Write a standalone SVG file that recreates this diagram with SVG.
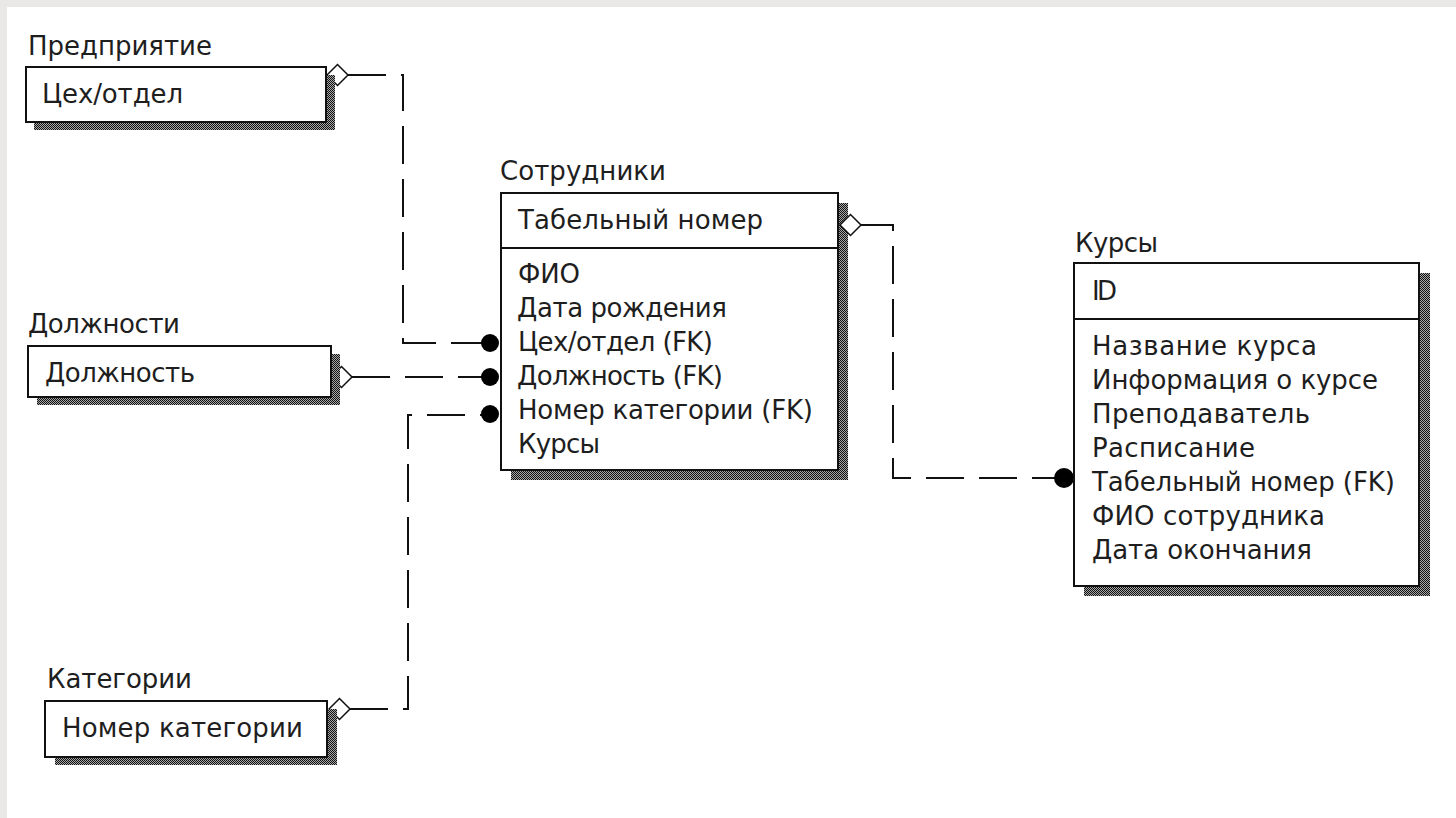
<svg xmlns="http://www.w3.org/2000/svg" width="1456" height="818" viewBox="0 0 1456 818">
<defs>
<pattern id="dither" width="2" height="2" patternUnits="userSpaceOnUse">
<rect width="2" height="2" fill="#a8a8a8"/>
<rect width="1" height="1" fill="#111"/>
<rect x="1" y="1" width="1" height="1" fill="#111"/>
</pattern>
<style>
text{font-family:"DejaVu Sans","Liberation Sans",sans-serif;font-size:26px;fill:#1e1e1e}
.box{fill:#fff;stroke:#111;stroke-width:2}
.sh{fill:url(#dither)}
.div{stroke:#111;stroke-width:2}
.rel{fill:none;stroke:#111;stroke-width:2;stroke-dasharray:38 15}
.dia{fill:#fff;stroke:#111;stroke-width:1.5}
.dot{fill:#000}
</style>
</defs>
<rect width="1456" height="818" fill="#ffffff"/>
<rect width="1456" height="7" fill="#e9e8e6"/>
<rect width="7" height="818" fill="#e9e8e6"/>

<g id="connectors">
<path class="rel" d="M348 75 H403 V343 H482"/>
<path class="rel" d="M352 377 H482"/>
<path class="rel" d="M350 709 H408 V415 H482"/>
<path class="rel" d="M861 225 H893 V478 H1055"/>
<polygon class="dia" points="327,75 337.5,64.5 348,75 337.5,85.5"/>
<polygon class="dia" points="331,377 341.5,366.5 352,377 341.5,387.5"/>
<polygon class="dia" points="329,709 339.5,698.5 350,709 339.5,719.5"/>
<circle class="dot" cx="490" cy="343" r="9"/>
<circle class="dot" cx="490" cy="377" r="9"/>
<circle class="dot" cx="490" cy="414" r="9"/>
<circle class="dot" cx="1064" cy="478" r="10"/>
</g>

<g id="predpriyatie">
<text x="28" y="55" textLength="184">Предприятие</text>
<rect class="sh" x="34" y="75" width="301" height="55"/>
<rect class="box" x="26" y="67" width="300" height="55"/>
<text x="42" y="103" textLength="141">Цех/отдел</text>
</g>

<g id="dolzhnosti">
<text x="28" y="333" textLength="152">Должности</text>
<rect class="sh" x="37" y="354" width="303" height="51"/>
<rect class="box" x="28" y="346" width="303" height="51"/>
<text x="45" y="382" textLength="150">Должность</text>
</g>

<g id="kategorii">
<text x="47" y="688" textLength="145">Категории</text>
<rect class="sh" x="55" y="709" width="282" height="56"/>
<rect class="box" x="45" y="701" width="282" height="56"/>
<text x="62" y="737" textLength="241">Номер категории</text>
</g>

<g id="sotrudniki">
<text x="500" y="180" textLength="166">Сотрудники</text>
<rect class="sh" x="511" y="203" width="337" height="277"/>
<polygon class="dia" points="840,225 850.5,214.5 861,225 850.5,235.5"/>
<rect class="box" x="501" y="193" width="337" height="277"/>
<line class="div" x1="501" y1="248" x2="838" y2="248"/>
<text x="518" y="229" textLength="245">Табельный номер</text>
<text x="518" y="283" textLength="62">ФИО</text>
<text x="517" y="317" textLength="210">Дата рождения</text>
<text x="518" y="351" textLength="195">Цех/отдел (FK)</text>
<text x="517" y="385" textLength="206">Должность (FK)</text>
<text x="518" y="419" textLength="295">Номер категории (FK)</text>
<text x="518" y="453" textLength="82">Курсы</text>
</g>

<g id="kursy">
<text x="1075" y="252" textLength="83">Курсы</text>
<rect class="sh" x="1084" y="273" width="346" height="323"/>
<rect class="box" x="1074" y="263" width="345" height="323"/>
<line class="div" x1="1074" y1="319" x2="1419" y2="319"/>
<text x="1092" y="300" textLength="25">ID</text>
<text x="1092" y="355" textLength="225">Название курса</text>
<text x="1092" y="389" textLength="286">Информация о курсе</text>
<text x="1092" y="423" textLength="218">Преподаватель</text>
<text x="1092" y="457" textLength="163">Расписание</text>
<text x="1092" y="491" textLength="303">Табельный номер (FK)</text>
<text x="1092" y="525" textLength="233">ФИО сотрудника</text>
<text x="1092" y="559" textLength="220">Дата окончания</text>
</g>
</svg>
